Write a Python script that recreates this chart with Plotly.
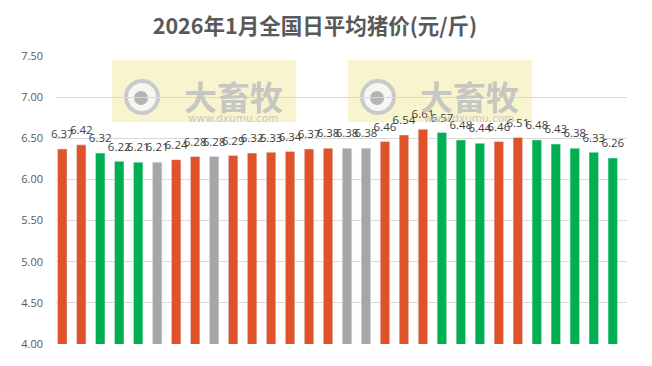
import plotly.graph_objects as go

days = list(range(1, 31))
prices = [6.37, 6.42, 6.32, 6.22, 6.21, 6.21, 6.24, 6.28, 6.28, 6.29,
          6.32, 6.33, 6.34, 6.37, 6.38, 6.38, 6.38, 6.46, 6.54, 6.61,
          6.57, 6.48, 6.44, 6.46, 6.51, 6.48, 6.43, 6.38, 6.33, 6.26]
trend = ["up", "up", "down", "down", "down", "flat", "up", "up", "flat", "up",
         "up", "up", "up", "up", "up", "flat", "flat", "up", "up", "up",
         "down", "down", "down", "up", "up", "down", "down", "down", "down", "down"]
y_ticks = [4.0, 4.5, 5.0, 5.5, 6.0, 6.5, 7.0, 7.5]

color_map = {"up": "#E0532A", "down": "#00B050", "flat": "#A6A6A6"}
colors = [color_map[t] for t in trend]
xs = [d - 1 for d in days]

# page body has an 8px margin; figure geometry compensates for it
OFF = 8
L, R, T, B = 48, 25, 48, 22
W, H = 652 - OFF, 366 - OFF
PX0, PX1 = OFF + L, OFF + W - R          # plot area in page pixels
PY0, PY1 = OFF + T, OFF + H - B


def px(x):
    return (x - PX0) / (PX1 - PX0)


def py(y):
    return (PY1 - y) / (PY1 - PY0)


fig = go.Figure()
fig.add_trace(go.Bar(
    x=xs, y=prices, marker_color=colors, width=0.5,
    hoverinfo="skip",
))
fig.add_trace(go.Scatter(
    x=xs, y=prices, mode="markers+text", text=[f"{p:.2f}" for p in prices],
    textposition="top center",
    marker=dict(size=11, opacity=0),
    textfont=dict(size=11.5, color="#404040", family="Open Sans"),
    cliponaxis=False, hoverinfo="skip",
))

# watermarks
for x0 in [112, 348]:
    fig.add_shape(type="rect", xref="paper", yref="paper",
                  x0=px(x0), x1=px(x0 + 184), y0=py(122), y1=py(60),
                  fillcolor="rgba(245,238,180,0.65)", line_width=0, layer="below")
    cx, cy = x0 + 30, 97
    fig.add_shape(type="circle", xref="paper", yref="paper",
                  x0=px(cx - 16), x1=px(cx + 16), y0=py(cy + 16), y1=py(cy - 16),
                  fillcolor="#F6F6F2", line=dict(color="#CACACA", width=4), layer="below")
    fig.add_shape(type="circle", xref="paper", yref="paper",
                  x0=px(cx - 8), x1=px(cx + 6), y0=py(cy + 8), y1=py(cy - 6),
                  fillcolor="#B4B4B4", line_width=0, layer="below")
    fig.add_annotation(text="<b>大畜牧</b>", xref="paper", yref="paper",
                       x=px(x0 + 121), y=py(96), xanchor="center", yanchor="middle",
                       showarrow=False, font=dict(size=33, color="#C6C6C2",
                                                  family="Noto Sans CJK SC"))
    fig.add_annotation(text="www.dxumu.com", xref="paper", yref="paper",
                       x=px(x0 + 121), y=py(118), xanchor="center", yanchor="middle",
                       showarrow=False, font=dict(size=10.5, color="#C8C8C0",
                                                  family="DejaVu Sans"))

fig.update_layout(
    width=W, height=H,
    margin=dict(l=L, r=R, t=T, b=B),
    paper_bgcolor="white", plot_bgcolor="white",
    title=dict(text="<b>2026年1月全国日平均猪价(元/斤)</b>", x=(315 - OFF) / W,
               y=1 - (26 - OFF) / H, xanchor="center", yanchor="middle",
               font=dict(size=21.5, color="#595959", family="Noto Sans CJK SC")),
    showlegend=False,
    xaxis=dict(range=[-0.33, 29.75], showticklabels=False, showgrid=False,
               zeroline=False, showline=False, fixedrange=True),
    yaxis=dict(range=[4.0, 7.5], tickvals=y_ticks,
               ticktext=[f"{v:.2f}" for v in y_ticks],
               showgrid=True, gridcolor="#D9D9D9", gridwidth=1, zeroline=False,
               tickfont=dict(size=11, color="#595959", family="Open Sans"),
               ticks="", ticklabelstandoff=12, fixedrange=True),
)

fig.write_html("out.html")
